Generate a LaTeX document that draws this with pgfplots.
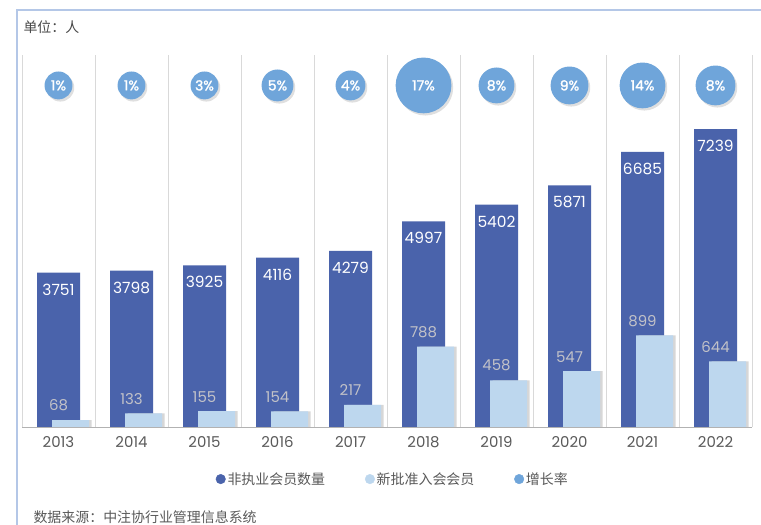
\documentclass[border=0pt]{standalone}
\usepackage{pgfplots}
\usepackage{pgfplotstable}
\pgfplotsset{compat=1.18}
\usetikzlibrary{shadows}
\usepackage{fontspec}
\setmainfont{Poppins}
\newfontfamily\popsb{Poppins}[FakeBold=1.5]
\newfontfamily\cjk{Noto Sans CJK SC}
\definecolor{dblue}{HTML}{4A63AB}
\definecolor{lblue}{HTML}{BDD7EE}
\definecolor{mblue}{HTML}{6FA5DA}
\definecolor{txtgray}{HTML}{595959}
\definecolor{framec}{HTML}{B4C7E7}
\definecolor{gridc}{HTML}{D9D9D9}
\definecolor{lbl}{HTML}{C2C2C8}
\pgfplotstableread{
x year total new rate dd by
0 2013 3751 68 1 28 8300
1 2014 3798 133 1 28 8300
2 2015 3925 155 3 28 8300
3 2016 4116 154 5 32 8300
4 2017 4279 217 4 30 8300
5 2018 4997 788 17 56 8300
6 2019 5402 458 8 36 8300
7 2020 5871 547 9 38 8300
8 2021 6685 899 14 46 8300
9 2022 7239 644 8 40 8300
}\datatable
\begin{document}
\begin{tikzpicture}[x=1bp,y=1bp]
\path[use as bounding box] (0,0) rectangle (761,525);
\draw[framec, line width=1.2bp] (17,0) -- (17,515) -- (761,515);
\node[anchor=west, text=txtgray!80!black, font=\cjk\fontsize{14}{16}\selectfont] at (20,498) {单位：人};
\node[anchor=west, text=txtgray, font=\cjk\fontsize{14}{16}\selectfont] at (30,8) {数据来源：中注协行业管理信息系统};
\begin{axis}[
  at={(22bp,98bp)}, anchor=south west,
  scale only axis, width=730bp, height=372bp,
  xmin=-0.5, xmax=9.5, ymin=0, ymax=9040,
  axis x line*=bottom, axis y line=none,
  x axis line style={draw=gray!60, line width=0.8bp, -},
  xtick={0,...,9},
  xticklabels={2013,2014,2015,2016,2017,2018,2019,2020,2021,2022},
  major tick length=0pt, minor tick length=0pt,
  xticklabel style={text=txtgray, font=\fontsize{15}{17}\selectfont, yshift=-6bp},
  minor xtick={-0.5,0.5,...,9.5},
  xminorgrids=true,
  minor grid style={draw=gridc, line width=0.9bp},
  ytick=\empty,
  clip=false,
  /pgf/number format/assume math mode=true,
  /pgf/number format/1000 sep={},
  legend style={at={(0.508,-0.14)}, anchor=center, draw=none, fill=none,
    legend columns=3, font=\cjk\fontsize{14}{16}\selectfont, text=txtgray,
    /tikz/every even column/.append style={column sep=38bp},
    legend cell align=left},
]
\addlegendimage{only marks, mark=*, mark size=4.8bp, dblue}
\addlegendentry{非执业会员数量}
\addlegendimage{only marks, mark=*, mark size=4.8bp, lblue}
\addlegendentry{新批准入会会员}
\addlegendimage{only marks, mark=*, mark size=4.8bp, mblue}
\addlegendentry{增长率}
\addplot[ybar, bar shift=0pt, bar width=43bp, fill=dblue, draw=none,
  nodes near coords,
  nodes near coords style={anchor=north, text=white, yshift=-7.5bp, font=\fontsize{15.5}{17}\selectfont},
  forget plot] table[x=x, y=total] {\datatable};
% growth-rate bubbles
\addplot[only marks, mark=none, draw=none, point meta=explicit,
  visualization depends on={\thisrow{dd} \as \bubd},
  nodes near coords={\pgfmathprintnumber{\pgfplotspointmeta}\%},
  nodes near coords style={anchor=center, circle, inner sep=0pt,
    minimum size=\bubd pt, fill=mblue, text=white,
    drop shadow={fill=gray!55, opacity=0.45, shadow xshift=1.8bp, shadow yshift=-2.2bp},
    font=\popsb\fontsize{14}{16}\selectfont},
  forget plot] table[x=x, y=by, meta=rate] {\datatable};
\end{axis}
\begin{axis}[
  at={(22bp,98bp)}, anchor=south west,
  scale only axis, width=730bp, height=372bp,
  xmin=-0.5, xmax=9.5, ymin=0, ymax=3650,
  hide axis, clip=false,
  /pgf/number format/assume math mode=true,
  /pgf/number format/1000 sep={},
]
\addplot[ybar, bar shift=14.5bp, bar width=37bp, fill=gray!45, draw=none, opacity=0.7]
  table[x=x, y=new] {\datatable};
\addplot[ybar, bar shift=12bp, bar width=37bp, fill=lblue, draw=none,
  nodes near coords,
  nodes near coords style={anchor=south, text=lbl, yshift=5.5bp, font=\fontsize{15}{17}\selectfont}]
  table[x=x, y=new] {\datatable};
\end{axis}
\end{tikzpicture}
\end{document}
